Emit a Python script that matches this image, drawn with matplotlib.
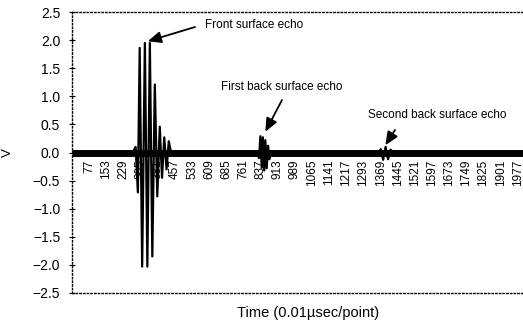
import matplotlib
matplotlib.use("Agg")
import matplotlib.pyplot as plt

plt.rcParams['font.family'] = ['Liberation Sans', 'DejaVu Sans']

# waveform extrema (point index, volts)
trace_x = [1, 270, 283, 293, 301, 312, 324, 335, 346, 357, 368, 379, 390, 400, 410, 420, 430, 440,
           820, 830, 836, 842, 847, 853, 858, 864, 870, 876, 884,
           1360, 1370, 1380, 1391, 1402, 1413, 1425, 2000]
trace_y = [0.0, 0.0, 0.10, -0.71, 1.86, -2.03, 1.95, -2.03, 1.95, -1.85, 1.21, -0.78, 0.46, -0.45, 0.27, -0.30, 0.20, 0.0,
           0.0, -0.10, 0.29, -0.27, 0.27, -0.32, 0.22, -0.28, 0.12, -0.12, 0.0,
           0.0, 0.06, -0.13, 0.10, -0.12, 0.05, 0.0, 0.0]
noise_x = [1, 2000]
noise_y = [0.0, 0.0]

xticks = [77, 153, 229, 305, 381, 457, 533, 609, 685, 761, 837, 913, 989, 1065, 1141,
          1217, 1293, 1369, 1445, 1521, 1597, 1673, 1749, 1825, 1901, 1977]
yticks = [2.5, 2.0, 1.5, 1.0, 0.5, 0.0, -0.5, -1.0, -1.5, -2.0, -2.5]

# arrow tips (point index, volts) for the three echoes
labels = ['Front surface echo', 'First back surface echo', 'Second back surface echo']
tips_x = [337, 858, 1390]
tips_y = [1.98, 0.37, 0.13]


def fig_xy(px, py):
    return px / 523, 1 - py / 321


fig = plt.figure(figsize=(5.23, 3.21), dpi=100)
ax = fig.add_axes([72/523, 1 - 293/321, 1 - 72/523, (293 - 12)/321])

ax.plot(noise_x, noise_y, color='black', lw=5, solid_capstyle='butt')
ax.plot(trace_x, trace_y, color='black', lw=1.6)

ax.set_xlim(1, 2000)
ax.set_ylim(-2.5, 2.5)
ax.set_yticks(yticks)
ax.set_yticklabels([('%.1f' % v).replace('-', '\u2212') for v in yticks], fontsize=10)
ax.tick_params(axis='y', direction='inout', length=5, width=0.8, pad=6)
ax.set_xticks([])

for s in ['top', 'left', 'bottom']:
    ax.spines[s].set_linestyle(':')
    ax.spines[s].set_linewidth(1.0)
ax.spines['right'].set_visible(False)

sec = ax.secondary_xaxis(0.5)
sec.set_alignment('bottom')
sec.set_xticks(xticks)
sec.set_xticklabels([str(t) for t in xticks], rotation=90, fontsize=8.5)
sec.tick_params(length=0, pad=5)
sec.spines['bottom'].set_visible(False)
sec.spines['top'].set_visible(False)

text_pos = [(205, 25), (221, 87), (368, 115)]
tail_pos = [(195, 27), (282, 100), (395, 130)]
for lab, tx, ty, tp, tl in zip(labels, tips_x, tips_y, text_pos, tail_pos):
    fig.text(*fig_xy(*tp), lab, fontsize=8.5, ha='left', va='center')
    ax.annotate('', xy=(tx, ty), xytext=fig_xy(*tl), textcoords='figure fraction',
                arrowprops=dict(arrowstyle='-|>,head_length=0.8,head_width=0.35',
                                color='black', lw=1.3, shrinkA=0, shrinkB=0))

fig.text(8/523, 1 - 153/321, 'V', rotation=90, fontsize=9.5, ha='center', va='center')
fig.text(308/523, 1 - 313/321, 'Time (0.01\u00b5sec/point)', fontsize=10.5, ha='center', va='center')

fig.savefig('out.png', dpi=100)
plt.close()
